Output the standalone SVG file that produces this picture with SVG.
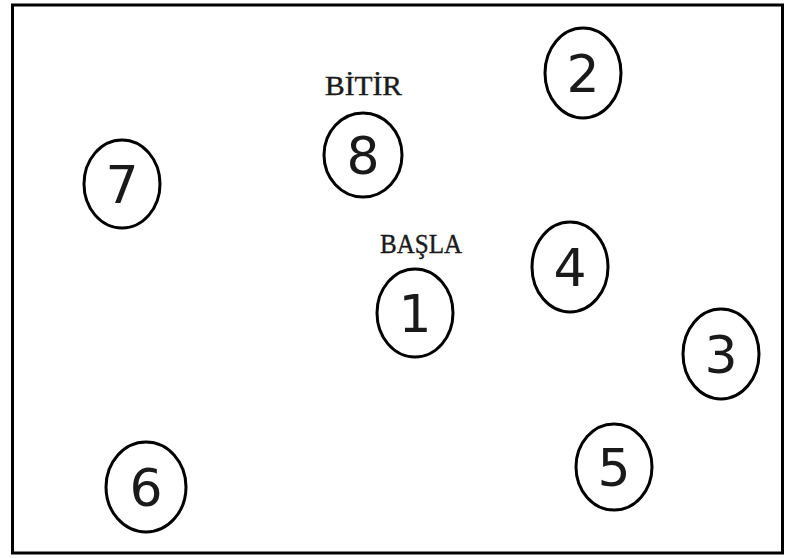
<svg xmlns="http://www.w3.org/2000/svg" width="789" height="558" viewBox="0 0 789 558">
<style>
.n ellipse{fill:#fff;stroke:#000;stroke-width:3}
.n text{font-family:"DejaVu Sans",Verdana,sans-serif;font-size:52px;fill:#1a1a1a;text-anchor:middle}
.lbl{font-family:"Liberation Serif","DejaVu Serif",serif;font-size:27px;fill:#1a1a1a;stroke:#1a1a1a;stroke-width:0.4}
</style>
<rect x="0" y="0" width="789" height="558" fill="#fff"/>
<rect x="12.5" y="5" width="770" height="548" fill="#fff" stroke="#000" stroke-width="3"/>
<g id="connectors"></g>
<g id="node1" class="n"><ellipse cx="415" cy="313" rx="38" ry="44"/><text x="415" y="332">1</text></g>
<g id="node2" class="n"><ellipse cx="583" cy="73" rx="38" ry="45"/><text x="583" y="92">2</text></g>
<g id="node3" class="n"><ellipse cx="721" cy="354" rx="38" ry="45"/><text x="721" y="373">3</text></g>
<g id="node4" class="n"><ellipse cx="570" cy="267" rx="38" ry="45"/><text x="570" y="286">4</text></g>
<g id="node5" class="n"><ellipse cx="614" cy="467" rx="38" ry="43"/><text x="614" y="486">5</text></g>
<g id="node6" class="n"><ellipse cx="146" cy="487" rx="40" ry="45"/><text x="146" y="506">6</text></g>
<g id="node7" class="n"><ellipse cx="122" cy="184" rx="38" ry="44"/><text x="122" y="203">7</text></g>
<g id="node8" class="n"><ellipse cx="363" cy="155" rx="39" ry="42"/><text x="363" y="174">8</text></g>
<text class="lbl" x="325" y="95" textLength="77" lengthAdjust="spacingAndGlyphs">BİTİR</text>
<text class="lbl" x="380" y="253" textLength="82" lengthAdjust="spacingAndGlyphs">BAŞLA</text>
</svg>
